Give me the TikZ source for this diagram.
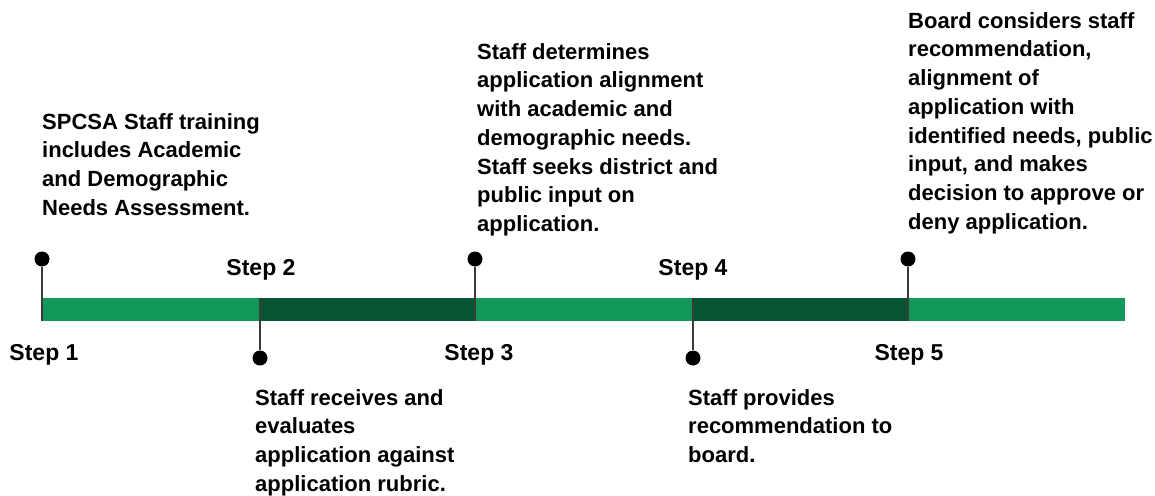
\documentclass[tikz,border=0pt]{standalone}
\usepackage{fontspec}
\setmainfont{Liberation Sans}
\definecolor{barlight}{HTML}{12985A}
\definecolor{bardark}{HTML}{085432}
\definecolor{stemgray}{HTML}{3A3A3A}
\tikzset{
  dot/.style={circle,fill=black,inner sep=0pt,minimum size=15pt},
  stemline/.style={stemgray,line width=1.4pt},
  steplabel/.style={anchor=base,inner sep=0pt,font=\fontsize{23}{28}\selectfont\bfseries},
  note/.style={anchor=north west,inner sep=0pt,align=left,font=\fontsize{22}{28.7}\selectfont\bfseries}
}
\begin{document}
\begin{tikzpicture}[x=1pt,y=-1pt]
\useasboundingbox (0,0) rectangle (1155,495);
\fill[white] (0,0) rectangle (1155,495);

% the bar
\fill[barlight] (42,298) rectangle (260,321);
\fill[bardark] (260,298) rectangle (475,321);
\fill[barlight] (475,298) rectangle (693,321);
\fill[bardark] (693,298) rectangle (908,321);
\fill[barlight] (908,298) rectangle (1125,321);

% step 1
\node[dot] (d1) at (42,259) {};
\coordinate (b1) at (42,321);
\draw[stemline] (d1) -- (b1);
\node[steplabel] (s1) at (44,360) {Step 1};
\node[note] (n1) at (42,109) {\strut SPCSA Staff training\\includes Academic\\and Demographic\\Needs Assessment.};

% step 2
\node[dot] (d2) at (260,358) {};
\coordinate (b2) at (260,298);
\draw[stemline] (d2) -- (b2);
\node[steplabel] (s2) at (261,275) {Step 2};
\node[note] (n2) at (255,385) {\strut Staff receives and\\evaluates\\application against\\application rubric.};

% step 3
\node[dot] (d3) at (475,259) {};
\coordinate (b3) at (475,321);
\draw[stemline] (d3) -- (b3);
\node[steplabel] (s3) at (479,360) {Step 3};
\node[note] (n3) at (477,39) {\strut Staff determines\\application alignment\\with academic and\\demographic needs.\\Staff seeks district and\\public input on\\application.};

% step 4
\node[dot] (d4) at (693,358) {};
\coordinate (b4) at (693,298);
\draw[stemline] (d4) -- (b4);
\node[steplabel] (s4) at (693,275) {Step 4};
\node[note] (n4) at (688,385) {\strut Staff provides\\recommendation to\\board.};

% step 5
\node[dot] (d5) at (908,259) {};
\coordinate (b5) at (908,321);
\draw[stemline] (d5) -- (b5);
\node[steplabel] (s5) at (909,360) {Step 5};
\node[note] (n5) at (908,8) {\strut Board considers staff\\recommendation,\\alignment of\\application with\\identified needs, public\\input, and makes\\decision to approve or\\deny application.};
\end{tikzpicture}
\end{document}
